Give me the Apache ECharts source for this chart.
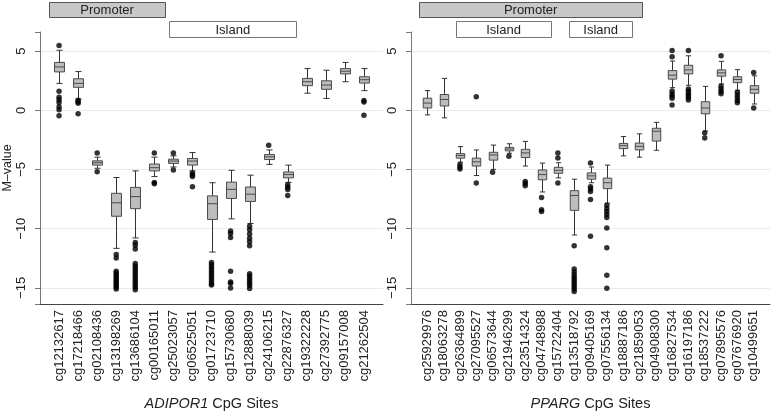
<!DOCTYPE html>
<html>
<head>
<meta charset="utf-8">
<script src="https://cdn.jsdelivr.net/npm/echarts@6/dist/echarts.min.js"></script>
<style>html,body{margin:0;padding:0;background:#fff}#c{width:772px;height:416px}</style>
</head>
<body>
<div id="c"></div>
<script>
// ---------- DATA ----------
const adiporSites = ['cg12132617','cg17218466','cg02108436','cg13198269','cg13686104','cg00165011','cg25023057','cg06525051','cg01723710','cg15730680','cg12888039','cg24106215','cg22876327','cg19322228','cg27392775','cg09157008','cg21262504'];
const adiporLow  = [2.27, 0.95, -4.9, -11.66, -10.78, -5.6, -4.79, -5.12, -11.97, -9.17, -9.56, -4.57, -6.09, 1.44, 1.0, 2.41, 1.66];
const adiporQ1   = [3.24, 1.94, -4.63, -8.95, -8.31, -5.12, -4.49, -4.63, -9.22, -7.45, -7.7, -4.16, -5.71, 2.08, 1.77, 3.07, 2.3];
const adiporMed  = [3.66, 2.27, -4.43, -7.81, -7.29, -4.85, -4.29, -4.29, -7.89, -6.68, -7.09, -3.93, -5.43, 2.41, 2.13, 3.3, 2.58];
const adiporQ3   = [4.04, 2.66, -4.27, -7.01, -6.51, -4.54, -4.13, -4.07, -7.23, -6.07, -6.48, -3.74, -5.21, 2.69, 2.49, 3.52, 2.83];
const adiporHigh = [5.07, 3.27, -3.96, -5.68, -5.12, -3.96, -3.85, -3.57, -6.12, -5.07, -5.48, -3.35, -4.63, 3.52, 3.38, 4.04, 3.52];
const adiporOutliers = [
  [5.48, 1.61, 1.11, 0.89, 0.66, 0.3, 0.05, -0.47],
  [0.85, 0.72, 0.6, -0.3],
  [-3.6, -5.2],
  [-12.19, -12.47, -13.6, -13.75, -13.9, -14.05, -14.2, -14.35, -14.5, -14.65, -14.8, -14.95, -15.1],
  [-11.16, -11.4, -11.72, -12.95, -13.15, -13.35, -13.55, -13.75, -13.95, -14.15, -14.35, -14.55, -14.75, -14.95, -15.15],
  [-3.6, -6.09, -6.2],
  [-3.6, -5.04],
  [-5.3, -5.45, -5.6, -6.45],
  [-12.85, -13.05, -13.25, -13.45, -13.65, -13.85, -14.05, -14.25, -14.45, -14.65, -14.75],
  [-10.2, -10.4, -10.75, -13.6, -14.5, -14.6, -15.0],
  [-9.8, -10.1, -10.45, -10.8, -11.1, -11.45, -13.8, -14.0, -14.2, -14.4, -14.6, -14.8, -15.05],
  [-2.96],
  [-6.29, -6.5, -6.7, -7.2],
  [], [], [],
  [0.83, 0.69, -0.42]
];

const ppargSites = ['cg25929976','cg18063278','cg26364899','cg27095527','cg06573644','cg21946299','cg23514324','cg04748988','cg15722404','cg13518792','cg09405169','cg07556134','cg18887186','cg21859053','cg04908300','cg16827534','cg16197186','cg18537222','cg07895576','cg07676920','cg10499651'];
const ppargLow  = [-0.39, -0.64, -4.38, -5.51, -4.99, -3.63, -4.71, -6.9, -5.71, -10.53, -6.12, -7.84, -3.85, -3.96, -3.38, 1.91, 2.11, -1.75, 2.22, 1.69, 0.53];
const ppargQ1   = [0.19, 0.36, -4.04, -4.71, -4.21, -3.43, -3.99, -5.87, -5.32, -8.45, -5.82, -6.62, -3.24, -3.35, -2.6, 2.63, 3.07, -0.3, 2.88, 2.33, 1.44];
const ppargMed  = [0.61, 0.91, -3.82, -4.35, -3.77, -3.27, -3.6, -5.43, -5.07, -7.2, -5.54, -6.12, -2.99, -3.05, -1.77, 2.96, 3.41, 0.19, 3.16, 2.6, 1.77];
const ppargQ3   = [1.02, 1.33, -3.66, -4.04, -3.55, -3.13, -3.3, -5.04, -4.82, -6.79, -5.29, -5.73, -2.8, -2.77, -1.52, 3.35, 3.8, 0.72, 3.41, 2.83, 2.08];
const ppargHigh = [1.66, 2.69, -3.07, -3.35, -2.94, -2.83, -2.63, -4.46, -4.43, -5.82, -4.79, -4.63, -2.22, -1.99, -1.02, 4.16, 4.6, 2.02, 4.13, 3.43, 2.91];
const ppargOutliers = [
  [], [],
  [-4.57, -4.79, -4.95],
  [1.14, -6.15],
  [-5.24],
  [-3.88],
  [-6.01, -6.18, -6.37],
  [-7.37, -8.4, -8.55],
  [-3.6, -4.02, -6.15],
  [-11.44, -13.4, -13.65, -13.9, -14.1, -14.3, -14.5, -14.7, -14.9, -15.1, -15.3],
  [-4.46, -6.45, -6.65, -6.87, -7.53, -10.64],
  [-8.03, -8.3, -8.55, -8.8, -9.06, -9.94, -11.61, -13.93, -15.04],
  [], [], [],
  [5.04, 4.52, 1.63, 1.4, 1.2, 1.02, 0.44],
  [5.04, 1.8, 1.6, 1.4, 1.25, 1.05, 0.86],
  [-1.91, -2.35],
  [4.6, 2.02, 1.8, 1.58, 1.39],
  [1.52, 1.3, 1.05, 0.83, 0.64],
  [3.19, 0.19]
];

const yTicks = [-15, -10, -5, 0, 5];

// Annotation bars: [label, fromPosition, toPosition, row]  (row 0 = gray, row 1 = white)
const adiporAnnot = [['Promoter', 0.47, 6.57, 0], ['Island', 6.78, 13.46, 1]];
const ppargAnnot  = [['Promoter', 0.49, 14.17, 0], ['Island', 2.76, 8.59, 1], ['Island', 9.69, 13.56, 1]];

// ---------- CHART ----------
const FONT = 'Liberation Sans, Arial, Helvetica, sans-serif';
const chart = echarts.init(document.getElementById('c'), null, {renderer: 'canvas'});

function boxData(low, q1, med, q3, high) {
  return low.map((v, i) => [i + 1, v, q1[i], med[i], q3[i], high[i]]);
}
function outlierData(outs) {
  const d = [];
  outs.forEach((arr, i) => arr.forEach(v => d.push([i + 1, v])));
  return d;
}
function renderBox(params, api) {
  const x = api.value(0);
  const pLow = api.coord([x, api.value(1)]);
  const pQ1 = api.coord([x, api.value(2)]);
  const pMed = api.coord([x, api.value(3)]);
  const pQ3 = api.coord([x, api.value(4)]);
  const pHigh = api.coord([x, api.value(5)]);
  const band = api.size([1, 0])[0];
  const hw = band * 0.26, cw = band * 0.16;
  const cx = Math.round(pMed[0]) + 0.5;
  const ws = {stroke: '#333', lineWidth: 1};
  return {type: 'group', children: [
    {type: 'line', shape: {x1: cx, y1: pHigh[1], x2: cx, y2: pQ3[1]}, style: ws},
    {type: 'line', shape: {x1: cx, y1: pQ1[1], x2: cx, y2: pLow[1]}, style: ws},
    {type: 'line', shape: {x1: cx - cw, y1: pHigh[1], x2: cx + cw, y2: pHigh[1]}, style: ws},
    {type: 'line', shape: {x1: cx - cw, y1: pLow[1], x2: cx + cw, y2: pLow[1]}, style: ws},
    {type: 'rect', shape: {x: cx - hw, y: pQ3[1], width: 2 * hw, height: pQ1[1] - pQ3[1]},
      style: {fill: '#bdbdbd', stroke: '#4a4a4a', lineWidth: 1}},
    {type: 'line', shape: {x1: cx - hw, y1: pMed[1], x2: cx + hw, y2: pMed[1]}, style: {stroke: '#4a4a4a', lineWidth: 1}}
  ]};
}

function yAxisDef(gridIndex, withName) {
  return {
    type: 'value', gridIndex: gridIndex, min: -16.36, max: 6.61,
    name: withName ? 'M–value' : '', nameLocation: 'middle', nameGap: 26,
    nameTextStyle: {fontFamily: FONT, fontSize: 12.5, color: '#222'},
    axisLine: {show: true, lineStyle: {color: '#777', width: 1}},
    axisTick: {show: true, length: 5, lineStyle: {color: '#777'}},
    axisLabel: {rotate: 90, margin: 12, fontFamily: FONT, fontSize: 13, color: '#222',
      formatter: v => yTicks.some(t => Math.abs(t - v) < 1e-6) ? String(Math.round(v)).replace('-', '−') : ''},
    splitLine: {show: true, showMinLine: false, showMaxLine: false, lineStyle: {color: '#ebebeb', width: 1}}
  };
}
function xAxisDef(gridIndex, sites, gene) {
  return {
    type: 'value', gridIndex: gridIndex, min: 0, max: sites.length + 1, interval: 1,
    name: '{i|' + gene + '} CpG Sites', nameLocation: 'middle', nameGap: 92,
    nameTextStyle: {fontFamily: FONT, fontSize: 14.5, color: '#222',
      rich: {i: {fontStyle: 'italic', fontFamily: FONT, fontSize: 14.5, color: '#222'}}},
    axisLine: {show: true, onZero: false, lineStyle: {color: '#444', width: 1}},
    axisTick: {show: false},
    splitLine: {show: false},
    axisLabel: {rotate: 90, margin: 6, fontFamily: FONT, fontSize: 13, color: '#222',
      formatter: v => sites[v - 1] || ''}
  };
}

chart.setOption({
  animation: false,
  backgroundColor: '#fff',
  grid: [
    {left: 38, top: 32, width: 345, height: 277},
    {left: 411, top: 32, width: 359, height: 277}
  ],
  xAxis: [xAxisDef(0, adiporSites, 'ADIPOR1'), xAxisDef(1, ppargSites, 'PPARG')],
  yAxis: [yAxisDef(0, true), yAxisDef(1, false)],
  series: [
    {type: 'custom', xAxisIndex: 0, yAxisIndex: 0, renderItem: renderBox,
      encode: {x: 0, y: [1, 2, 3, 4, 5]}, data: boxData(adiporLow, adiporQ1, adiporMed, adiporQ3, adiporHigh)},
    {type: 'scatter', xAxisIndex: 0, yAxisIndex: 0, symbolSize: 5.5, itemStyle: {color: '#000'},
      data: outlierData(adiporOutliers)},
    {type: 'custom', xAxisIndex: 1, yAxisIndex: 1, renderItem: renderBox,
      encode: {x: 0, y: [1, 2, 3, 4, 5]}, data: boxData(ppargLow, ppargQ1, ppargMed, ppargQ3, ppargHigh)},
    {type: 'scatter', xAxisIndex: 1, yAxisIndex: 1, symbolSize: 5.5, itemStyle: {color: '#000'},
      data: outlierData(ppargOutliers)}
  ]
});

// Annotation bars above each panel, positioned through the x axes
function annotGraphics(annots, gridIndex) {
  return annots.map(a => {
    const x0 = chart.convertToPixel({xAxisIndex: gridIndex}, a[1]);
    const x1 = chart.convertToPixel({xAxisIndex: gridIndex}, a[2]);
    const top = a[3] === 0 ? 2 : 21;
    const h = a[3] === 0 ? 15 : 16;
    return {type: 'group', children: [
      {type: 'rect', shape: {x: Math.round(x0) + 0.5, y: top + 0.5, width: Math.round(x1 - x0), height: h},
        style: {fill: a[3] === 0 ? '#c8c8c8' : '#fff', stroke: a[3] === 0 ? '#555' : '#777', lineWidth: 1}},
      {type: 'text', x: (x0 + x1) / 2, y: top + h / 2 + 1,
        style: {text: a[0], fontFamily: FONT, fontSize: 13, fill: '#222', align: 'center', verticalAlign: 'middle'}}
    ]};
  });
}
chart.setOption({graphic: annotGraphics(adiporAnnot, 0).concat(annotGraphics(ppargAnnot, 1))});
</script>
</body>
</html>
